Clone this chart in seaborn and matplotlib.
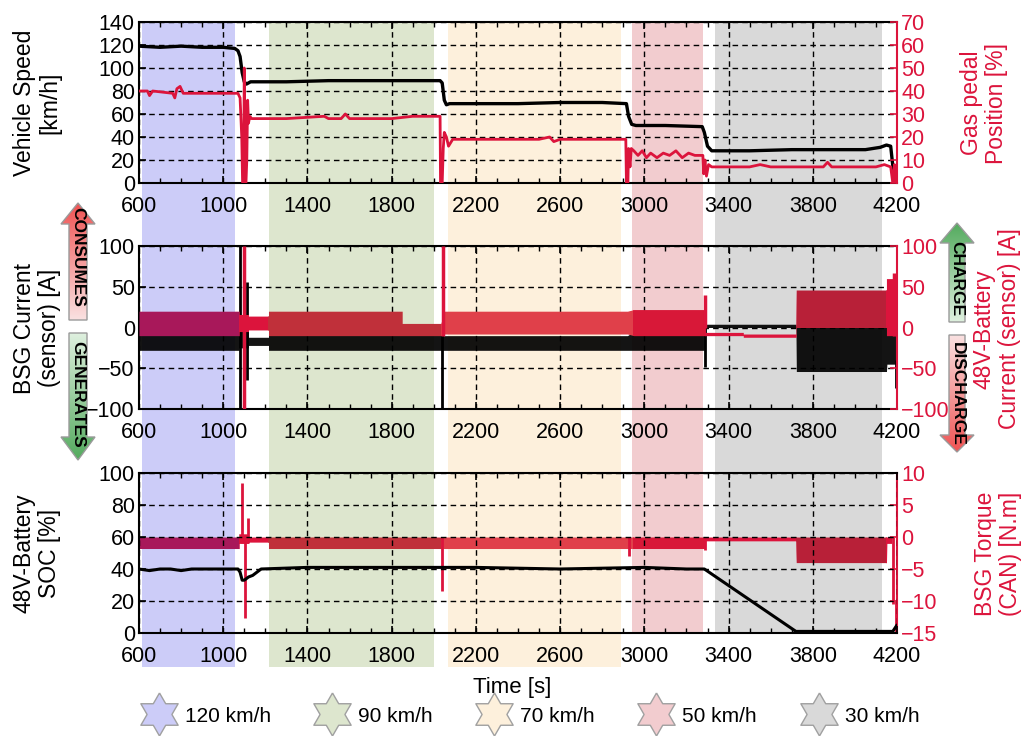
import numpy as np
import matplotlib
matplotlib.use("Agg")
import matplotlib.pyplot as plt
from matplotlib.patches import Polygon, Rectangle
from matplotlib.path import Path
from matplotlib.lines import Line2D
from matplotlib.ticker import FixedLocator
import seaborn as sns

sns.set_style("ticks")
plt.rcParams['font.family'] = ['Liberation Sans', 'DejaVu Sans']
plt.rcParams['font.size'] = 15
plt.rcParams['text.color'] = 'black'
plt.rcParams['xtick.color'] = 'black'
plt.rcParams['ytick.color'] = 'black'
plt.rcParams['xtick.labelcolor'] = 'black'
plt.rcParams['ytick.labelcolor'] = 'black'
ROT_FONT = ['Liberation Sans', 'DejaVu Sans']

RED = '#dc143c'

# ---- speed phases (background bands) ----
phase_labels = ['120 km/h', '90 km/h', '70 km/h', '50 km/h', '30 km/h']
phase_start = [613, 1219, 2069, 2940, 3336]
phase_end = [1056, 2002, 2889, 3280, 4130]
phase_colors = ['#ccccf8', '#dde6ce', '#fdf0dc', '#f2cccf', '#d9d9d9']

# ---- top panel: vehicle speed [km/h] and gas pedal [%] ----
speed_t = [600, 700, 800, 900, 1000, 1055, 1070, 1080, 1090, 1100,
           1110, 1130, 1300, 1500, 1700, 1900, 2030, 2040, 2050, 2060,
           2075, 2200, 2400, 2600, 2800, 2915, 2925, 2940, 2960, 3100,
           3275, 3285, 3300, 3320, 3500, 3700, 3900, 4050, 4120, 4150,
           4170, 4180, 4200]
speed_v = [119, 118, 119, 118, 118, 117, 115, 110, 96, 88,
           86, 88, 88, 89, 89, 89, 89, 87, 72, 68,
           69, 69, 69, 70, 70, 69, 58, 51, 50, 50,
           49, 44, 32, 28, 28, 29, 29, 29, 31, 33,
           32, 15, 2]

gas_t = [600, 640, 650, 665, 760, 770, 780, 795, 810, 1000,
         1070, 1080, 1088, 1092, 1097, 1100, 1103, 1108, 1112, 1116,
         1120, 1126, 1135, 1300, 1480, 1500, 1560, 1580, 1600, 1800,
         1900, 2030, 2032, 2040, 2045, 2050, 2060, 2070, 2090, 2300,
         2500, 2550, 2570, 2600, 2912, 2915, 2922, 2925, 2932, 2938,
         2950, 2970, 2990, 3010, 3030, 3060, 3090, 3120, 3150, 3180,
         3210, 3240, 3278, 3282, 3288, 3295, 3305, 3320, 3500, 3550,
         3600, 3850, 3870, 3890, 4100, 4140, 4170, 4180, 4188, 4192,
         4200]
gas_v = [40, 40, 38, 40, 39, 37, 41, 42, 39, 39,
         39, 37, 20, 0, 0, 50, 0, 0, 10, 36,
         26, 29, 28, 28, 29, 28, 28, 30, 28, 28,
         29, 29, 0, 0, 15, 22, 20, 16, 19, 19,
         19, 20, 18, 19, 19, 0, 0, 15, 7, 15,
         14, 12, 14, 11, 13, 11, 13, 12, 14, 11,
         13, 12, 12, 4, 10, 3, 8, 7, 7, 8,
         7, 7, 9, 7, 7, 8, 7, 0, 8, 0,
         0]

# ---- middle panel: BSG current [A] (black) and battery current [A] (red) ----
bsg_t = [600, 1075, 1075, 1120, 1120, 1215, 1215, 2035, 2045, 2920,
         2950, 3285, 3290, 3720, 3722, 4150, 4152, 4195]
bsg_lo = [-28, -28, -25, -25, -22, -22, -28, -28, -28, -28,
          -28, -28, 0, 0, -54, -54, -45, -45]
bsg_hi = [-8, -8, 10, 10, -12, -12, -8, -8, -10, -10,
          -5, -5, 4, 4, 0, 0, 0, 0]
bsg_spike_t = [1082, 1112, 2039, 3287, 4193]
bsg_spike_lo = [-100, -64, -100, -48, -74]
bsg_spike_hi = [100, 56, -5, 0, -40]

bat_t = [600, 1075, 1075, 1120, 1120, 1215, 1215, 1850, 1850, 2035,
         2045, 2920, 2950, 3285, 3290, 3470, 3470, 3720, 3722, 4150,
         4150, 4195]
bat_lo = [-10, -10, -5, -5, -3, -3, -10, -10, -10, -10,
          -8, -8, -10, -10, -10, -10, -12, -12, 0, 0,
          -10, -10]
bat_hi = [20, 20, 16, 16, 14, 14, 20, 20, 5, 5,
          20, 20, 22, 22, -6, -6, -8, -8, 46, 46,
          60, 60]
bat_spike_t = [1100, 2045, 3286, 4188]
bat_spike_lo = [-100, -10, 0, -10]
bat_spike_hi = [100, 100, 40, 67]

# ---- bottom panel: battery SOC [%] (black) and BSG torque [N.m] (red) ----
soc_t = [600, 650, 700, 750, 800, 850, 900, 1000, 1070, 1080,
         1090, 1100, 1120, 1140, 1160, 1180, 1400, 1800, 2200, 2600,
         3000, 3200, 3285, 3720, 3900, 4100, 4180, 4200]
soc_v = [40, 39, 40, 40, 39, 40, 40, 40, 40, 38,
         33, 33, 35, 36, 38, 40, 41, 41, 41, 40,
         41, 40, 40, 1, 1, 1, 1, 5]

tq_t = [600, 1075, 1075, 1120, 1120, 1215, 1215, 2035, 2045, 2920,
        2950, 3285, 3290, 3720, 3722, 4150, 4152, 4175]
tq_lo = [-1.8, -1.8, -1, -1, -0.8, -0.8, -1.8, -1.8, -1.8, -1.8,
         -1.8, -1.8, -0.6, -0.6, -4, -4, -1, -1]
tq_hi = [0, 0, 0.5, 0.5, 0, 0, 0, 0, 0, 0,
         0, 0, 0, 0, 0, 0, 0, 0]
tq_spike_t = [1088, 1103, 1118, 2040, 2925, 3286, 4180, 4195]
tq_spike_lo = [-1, -12.7, -1, -8.5, -3, -2, -10.5, -15]
tq_spike_hi = [8.4, 0, 3, 0, 0, 0, 0, -10]

# tint of the dense red signal over each part of the run
tint_start = [600, 1075, 1215, 2035, 2945, 3290, 3720, 4150]
tint_end = [1075, 1215, 2035, 2945, 3290, 3720, 4150, 4200]
tint_colors = ['#a8185a', RED, '#c0303a', '#e0404a', '#d81838', RED, '#b82038', RED]

W, H = 1025, 736
fig = plt.figure(figsize=(W / 100, H / 100), dpi=100)


def fx(px):
    return px / W


def fy(py):
    return 1 - py / H


x_left, x_right = 139, 897
panels_px = [(22, 183), (246, 409), (473, 633)]

# background bands, spanning the whole stack of panels
bg = fig.add_axes([fx(x_left), fy(667), fx(x_right - x_left), (667 - 22) / H], zorder=-1)
bg.set_xlim(600, 4200)
bg.set_ylim(0, 1)
bg.axis('off')
for i, (s, e, c) in enumerate(zip(phase_start, phase_end, phase_colors)):
    ymin = 0 if i < 3 else (667 - 633) / (667 - 22)
    bg.axvspan(s, e, ymin=ymin, ymax=1, color=c, lw=0)


def make_panel(top, bot, ylim, yticks, ylim2, yticks2):
    ax = fig.add_axes([fx(x_left), fy(bot), fx(x_right - x_left), (bot - top) / H])
    ax.set_facecolor('none')
    ax.set_xlim(600, 4200)
    ax.set_ylim(*ylim)
    ax.xaxis.set_major_locator(FixedLocator(list(range(600, 4201, 400))))
    ax.xaxis.set_minor_locator(FixedLocator(list(range(600, 4201, 100))))
    ax.yaxis.set_major_locator(FixedLocator(yticks))
    ax.grid(True, which='major', color='black', ls=(0, (4, 3)), lw=1)
    ax.tick_params(which='both', direction='in', top=True, right=False, color='black')
    ax.tick_params(which='major', length=5, width=1.2, pad=3, labelsize=15.5)
    ax.tick_params(which='minor', length=3.5, width=1.0)
    ax.tick_params(axis='x', which='minor', top=True, bottom=True)
    ax.tick_params(axis='x', which='major', pad=9)
    for side in ['left', 'bottom', 'top']:
        ax.spines[side].set_color('black')
        ax.spines[side].set_linewidth(1.5)
    ax.spines['right'].set_visible(False)

    ax2 = ax.twinx()
    ax2.set_ylim(*ylim2)
    ax2.yaxis.set_major_locator(FixedLocator(yticks2))
    ax2.tick_params(axis='y', direction='in', colors=RED, labelcolor=RED,
                    length=5, width=1.2, pad=3, labelsize=15.5)
    for side in ['left', 'bottom', 'top']:
        ax2.spines[side].set_visible(False)
    ax2.spines['right'].set_color(RED)
    ax2.spines['right'].set_linewidth(1.5)
    return ax, ax2


def tinted_band(ax, t, lo, hi):
    for s, e, c in zip(tint_start, tint_end, tint_colors):
        poly = ax.fill_between(t, lo, hi, color=c, lw=0)
        clip = Rectangle((s, -1000), e - s, 2000, transform=ax.transData)
        poly.set_clip_path(clip)


# top panel
ax1, ax1r = make_panel(*panels_px[0], (0, 140), list(range(0, 141, 20)), (0, 70), list(range(0, 71, 10)))
sns.lineplot(x=speed_t, y=speed_v, ax=ax1, color='black', lw=2.4, estimator=None, sort=False)
sns.lineplot(x=gas_t, y=gas_v, ax=ax1r, color=RED, lw=2.0, estimator=None, sort=False)

# middle panel
ax2, ax2r = make_panel(*panels_px[1], (-100, 100), [-100, -50, 0, 50, 100], (-100, 100), [-100, -50, 0, 50, 100])
ax2.fill_between(bsg_t, bsg_lo, bsg_hi, color='black', alpha=0.92, lw=0)
ax2.vlines(bsg_spike_t, bsg_spike_lo, bsg_spike_hi, color='black', lw=2)
tinted_band(ax2r, bat_t, bat_lo, bat_hi)
ax2r.vlines(bat_spike_t, bat_spike_lo, bat_spike_hi, color=RED, lw=2.5)

# bottom panel
ax3, ax3r = make_panel(*panels_px[2], (0, 100), list(range(0, 101, 20)), (-15, 10), [-15, -10, -5, 0, 5, 10])
tinted_band(ax3r, tq_t, tq_lo, tq_hi)
ax3r.vlines(tq_spike_t, tq_spike_lo, tq_spike_hi, color=RED, lw=2)
sns.lineplot(x=soc_t, y=soc_v, ax=ax3, color='black', lw=2.2, estimator=None, sort=False)
ax3.set_zorder(ax3r.get_zorder() + 1)

for a in (ax1, ax2, ax3, ax1r, ax2r, ax3r):
    a.set_xlabel('')
    a.set_ylabel('')

# axis titles
lab = dict(rotation=90, ha='center', va='center', multialignment='center',
           family=ROT_FONT, fontsize=16.5, linespacing=1.15)
fig.text(fx(37), fy(103), 'Vehicle Speed\n[km/h]', **lab)
fig.text(fx(984), fy(103), 'Gas pedal\nPosition [%]', color=RED, **lab)
fig.text(fx(37), fy(328), 'BSG Current\n(sensor) [A]', **lab)
fig.text(fx(997), fy(329), '48V-Battery\nCurrent (sensor) [A]', color=RED, **lab)
fig.text(fx(37), fy(553), '48V-Battery\nSOC [%]', **lab)
fig.text(fx(998), fy(554), 'BSG Torque\n(CAN) [N.m]', color=RED, **lab)
fig.text(fx(512), fy(687), 'Time [s]', ha='center', va='center', fontsize=16)

# direction arrows beside the current panel
ov = fig.add_axes([0, 0, 1, 1], zorder=10)
ov.set_facecolor('none')
ov.axis('off')


def grad_arrow(cx, tip, base, end, hw, sw, c_top, c_bot, label, ty):
    verts = [(cx, tip), (cx + hw, base), (cx + sw, base), (cx + sw, end),
             (cx - sw, end), (cx - sw, base), (cx - hw, base)]
    poly = Polygon(verts, closed=True, fc='none', ec='#9a9a9a', lw=1, zorder=3)
    ov.add_patch(poly)
    y0, y1 = min(tip, end), max(tip, end)
    g = np.linspace(0, 1, 64)[:, None, None]
    img = (1 - g) * np.array(c_top) + g * np.array(c_bot)
    im = ov.imshow(img, extent=(cx - hw, cx + hw, y1, y0), origin='upper',
                   aspect='auto', interpolation='bilinear', zorder=2)
    im.set_clip_path(poly)
    ov.text(cx, ty, label, rotation=270, ha='center', va='center', fontsize=12.5,
            fontweight='bold', family=ROT_FONT, zorder=4)


red_c = (0.94, 0.33, 0.33)
pink_c = (0.98, 0.88, 0.88)
green_c = (0.33, 0.67, 0.37)
mint_c = (0.87, 0.94, 0.87)
grad_arrow(78, 203, 224, 320, 17, 9, red_c, pink_c, 'CONSUMES', 257)
grad_arrow(78, 460, 437, 333, 17, 9, mint_c, green_c, 'GENERATES', 394)
grad_arrow(957, 223, 243, 322, 17, 8, green_c, mint_c, 'CHARGE', 279)
grad_arrow(957, 452, 435, 335, 17, 8, pink_c, red_c, 'DISCHARGE', 394)
ov.set_xlim(0, W)
ov.set_ylim(H, 0)

# legend with star markers for the speed phases
star = Path(Path.unit_regular_star(6, 0.577).vertices)
handles = [Line2D([], [], ls='', marker=star, markersize=31, markerfacecolor=c,
                  markeredgecolor='#a0a0a0', markeredgewidth=1) for c in phase_colors]
fig.legend(handles, phase_labels, loc='center', bbox_to_anchor=(fx(529), fy(716)),
           ncol=5, frameon=False, handletextpad=0.3, columnspacing=2.0,
           handlelength=1.9, fontsize=15)

fig.savefig('out.png', dpi=100)
